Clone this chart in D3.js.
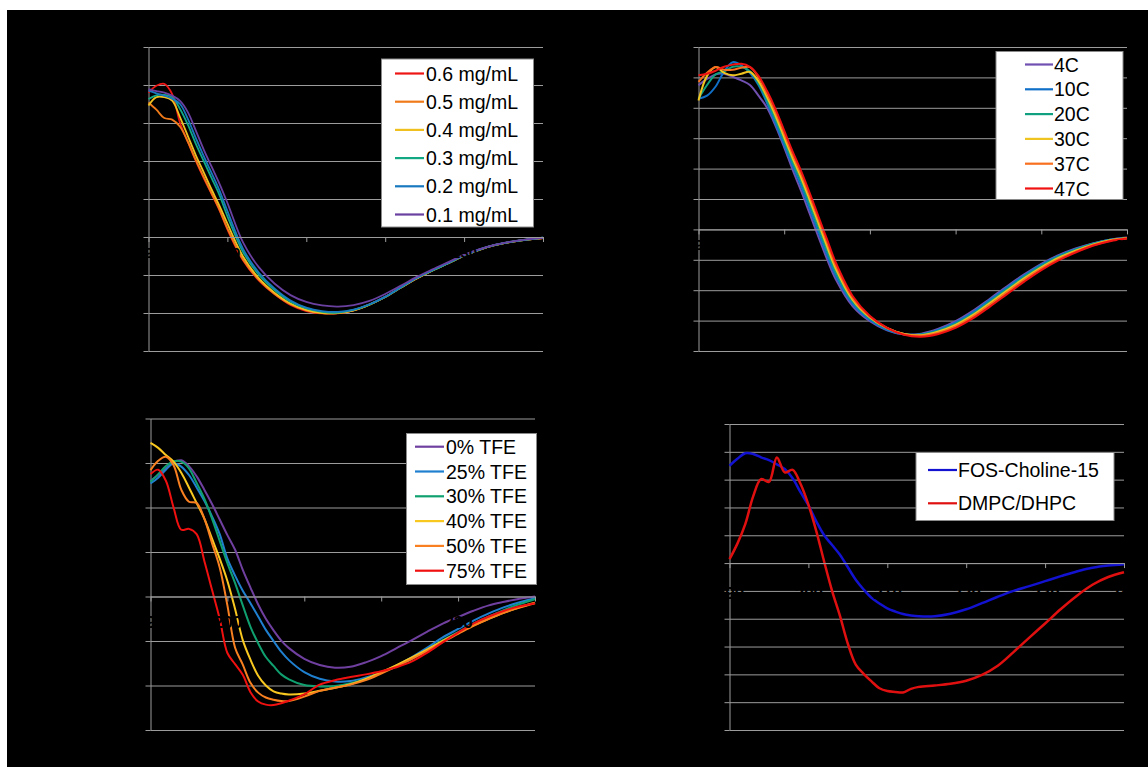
<!DOCTYPE html>
<html><head><meta charset="utf-8">
<script src="https://cdn.jsdelivr.net/npm/d3@7"></script>
<style>html,body{margin:0;padding:0;background:#fff;} svg{display:block;}</style>
</head><body>
<svg id="c" width="1148" height="767"></svg>
<script>
// ---------- DATA ----------
const xTicks = [190, 200, 210, 220, 230, 240];

// Panel A: protein concentration
const wlA = [190,191,192,193,194,195,196,197,198,199,200,202,204,206,208,210,212,214,216,218,220,222,224,226,228,230,232,234,236,238,240];
const concNames = ["0.6 mg/mL","0.5 mg/mL","0.4 mg/mL","0.3 mg/mL","0.2 mg/mL","0.1 mg/mL"];
const c06 = [38,39.8,40.3,37.6,30,25,20,15.5,11.3,7,2,-6.2,-11.5,-15.1,-17.9,-19.5,-20.1,-20.1,-19.3,-17.8,-15.8,-13.3,-10.9,-8.8,-6.9,-4.9,-3.3,-2.1,-1.3,-0.7,-0.3];
const c05 = [35.4,33.5,31.3,30.9,29,25,20.2,15.8,11.5,7.2,2.3,-6,-11.3,-15,-17.7,-19.3,-20,-20,-19.3,-17.8,-15.8,-13.3,-10.9,-8.8,-6.9,-4.9,-3.3,-2.1,-1.3,-0.7,-0.3];
const c04 = [34.6,36.8,36.8,35.9,31.5,26.5,21.5,17,12.5,8.2,3.5,-5.2,-10.9,-14.7,-17.5,-19.2,-20,-20,-19.3,-17.8,-15.8,-13.3,-10.9,-8.8,-6.9,-4.9,-3.3,-2.1,-1.3,-0.7,-0.3];
const c03 = [36.3,37.3,37.4,36.8,33.7,29.5,24.5,20,15.5,11,5.5,-4,-10,-14,-17,-18.8,-19.7,-19.9,-19.2,-17.8,-15.8,-13.3,-10.8,-8.8,-6.9,-4.9,-3.3,-2.1,-1.3,-0.7,-0.2];
const c02 = [38.5,37.8,37.2,36.4,35,31,26,21.3,16.8,12.2,6.8,-3.2,-9.4,-13.6,-16.7,-18.6,-19.5,-19.7,-19.1,-17.7,-15.7,-13.2,-10.8,-8.7,-6.8,-4.8,-3.2,-2,-1.2,-0.6,-0.2];
const c01 = [38.9,38.4,38,37.2,35.8,32.8,28,23,18.5,14,9,-1.5,-8,-12.3,-15.3,-17.1,-18,-18.3,-17.9,-16.8,-15,-12.8,-10.5,-8.5,-6.6,-4.7,-3.2,-2,-1.2,-0.6,-0.2];

// Panel B: temperature
const wlB = [190,191,192,193,194,195,196,197,198,199,200,201,202,203,204,205,206,208,210,212,214,216,218,220,222,224,226,228,230,232,234,236,238,240];
const tempNames = ["4C","10C","20C","30C","37C","47C"];
const t4  = [47.4,49.5,51,51.2,50.2,49,47.5,44,40,34,27,19.5,12.5,5,-2.5,-9.8,-16.3,-25.3,-30.2,-33.2,-34.6,-34.3,-32.7,-30.2,-26.8,-22.8,-18.7,-14.8,-11.3,-8.5,-6.3,-4.6,-3.4,-2.7];
const t10 = [43,44,47,52,55,54,51.5,47.5,41.5,34.8,27.8,20.8,14,6.5,-1,-8.5,-15.2,-24.6,-29.8,-33,-34.5,-34.5,-33,-30.6,-27.3,-23.2,-19.1,-15.2,-11.6,-8.7,-6.5,-4.7,-3.4,-2.8];
const t20 = [43,47.5,51,52,53.5,53.5,52,48,42.5,36,29,22,15.5,8,0.5,-7,-14,-23.8,-29.3,-32.6,-34.4,-34.6,-33.3,-31,-27.8,-23.7,-19.6,-15.6,-12,-9,-6.7,-4.8,-3.5,-2.8];
const t30 = [42.4,50.5,53.4,51.5,50.7,51.2,51.8,48.8,43.5,37.3,30.3,23.3,16.8,9.5,2,-5.6,-12.8,-23.2,-29,-32.5,-34.4,-34.8,-33.6,-31.4,-28.2,-24.2,-20.1,-16.1,-12.5,-9.4,-7,-5,-3.6,-2.8];
const t37 = [48.5,51.5,53.4,52.5,52.5,53.2,53.4,50,44.5,38.5,31.5,24.5,18,10.8,3.3,-4.3,-11.8,-22.6,-28.7,-32.4,-34.5,-35,-34,-31.9,-28.7,-24.8,-20.7,-16.6,-12.9,-9.8,-7.3,-5.2,-3.7,-2.9];
const t47 = [50.7,51.2,52.2,53.5,54.2,54.5,53.5,50.5,45.5,39.5,32.5,25.5,19,11.8,4.2,-3.3,-10.8,-22,-28.5,-32.4,-34.7,-35.3,-34.4,-32.4,-29.3,-25.4,-21.3,-17.2,-13.4,-10.2,-7.6,-5.4,-3.9,-3];

// Panel C: TFE
const wlC = [190,191,192,193,194,195,196,197,198,199,200,201,202,203,204,205,206,207,208,210,212,214,216,218,220,222,224,226,228,230,232,234,236,238,240];
const tfeNames = ["0% TFE","25% TFE","30% TFE","40% TFE","50% TFE","75% TFE"];
const f0  = [26,27.3,28.8,30.2,30.6,29.3,27,24,20.8,17.3,13.8,10.5,6,2,-1.8,-5,-7.6,-9.9,-11.6,-14,-15.4,-16,-15.8,-14.8,-13.4,-11.6,-9.8,-7.9,-6.1,-4.6,-3.2,-2,-1.2,-0.5,0];
const f25 = [25.4,26.7,28.5,29.9,29.2,27.3,24.5,21.5,18,14,8.5,4.7,1.3,-1.5,-4.5,-7.5,-10,-12.4,-14.3,-17,-18.5,-19.1,-19,-18.2,-17.1,-15.5,-13.6,-11.5,-9.2,-7.3,-5.4,-3.8,-2.4,-1.3,-0.4];
const f30 = [25.8,27.5,29.3,30.4,30.3,28.8,25.5,22,17.5,12.5,7.5,3,-2,-6.8,-10.5,-13.6,-15.6,-17.5,-18.6,-19.9,-20.2,-20.1,-19.5,-18.5,-17.1,-15.7,-14,-12,-9.8,-8,-6.1,-4.5,-3,-1.7,-0.6];
const f40 = [34.5,33.4,31.8,30.3,27.8,24.5,21,17.5,13,8.5,3.5,-2.8,-9.8,-14.2,-17.8,-20,-21.3,-21.8,-22,-21.8,-21.2,-20.5,-19.7,-18.5,-17,-15.4,-13.7,-11.9,-10,-8.2,-6.5,-5,-3.6,-2.4,-1.4];
const f50 = [28.4,30.5,31.4,29.5,24,21.3,21,17.5,12,6.5,-2,-11.5,-15.3,-19.4,-21.6,-22.7,-23.2,-23.5,-23.5,-22.5,-21.2,-20.5,-19.8,-18.8,-17.3,-15.7,-14,-12.2,-10.2,-8.4,-6.6,-5,-3.6,-2.5,-1.5];
const f75 = [27.5,28.5,26,20,15,15.2,14,8,1.5,-5,-12.7,-15.2,-17.6,-21.5,-23.6,-24.3,-24.4,-24,-23.4,-22,-19.8,-18.8,-18.1,-17.5,-16.8,-15.9,-14.6,-12.6,-10.3,-8.1,-6.1,-4.5,-3.2,-2.2,-1.5];

// Panel D: membrane mimetics
const wlD = [190,191,192,193,194,195,196,197,198,199,200,201,202,203,204,205,206,207,208,209,210,211,212,213,214,216,218,220,222,224,226,228,230,232,234,236,238,240];
const memNames = ["FOS-Choline-15","DMPC/DHPC"];
const fos  = [35,37.5,39.5,39.2,38,37,35.5,33.8,30.5,25.5,20.8,15,10,6.5,3,-1.5,-6,-9.5,-12.5,-14.5,-16.3,-17.4,-18.3,-18.8,-19.1,-19.1,-18.2,-16.6,-14.4,-12.1,-10,-8.3,-6.5,-4.7,-3,-1.7,-0.9,-0.4];
const dmpc = [1.4,7,14,24,30.2,29.2,38,32.6,33.5,28.5,21,11.5,0.5,-10,-19,-29,-36.5,-39.8,-42.5,-45,-46,-46.3,-46.5,-45.2,-44.5,-44,-43.4,-42.3,-40.2,-36.9,-32,-26.8,-21.7,-16.5,-11.8,-7.8,-5,-3.3];

// ---------- DRAWING ----------
const GRID = "#9c9c9c";
const FONT = "'Liberation Sans', Arial, sans-serif";
const svg = d3.select("#c");
svg.append("rect").attr("x",7).attr("y",10).attr("width",1141).attr("height",757).attr("fill","#000");

function panel(c){
  const x = d3.scaleLinear().domain([190,240]).range([c.x0, c.x1]);
  const y = d3.scaleLinear().domain(c.yDom).range([c.yBot, c.yTop]);
  const yt = d3.range(c.yDom[0], c.yDom[1] + 1e-6, 10);
  const g = svg.append("g");

  // gridlines
  g.append("g").attr("transform", `translate(${c.x0},0)`)
    .call(d3.axisLeft(y).tickValues(yt).tickSize(-(c.x1 - c.x0)).tickFormat(""))
    .call(s => { s.select(".domain").remove(); s.selectAll("line").attr("stroke", GRID); });

  // y axis
  const yg = g.append("g").attr("transform", `translate(${c.x0},0)`)
    .call(d3.axisLeft(y).tickValues(yt).tickSize(5).tickSizeOuter(0).tickPadding(6));
  yg.select(".domain").attr("stroke", GRID);
  yg.selectAll("line").attr("stroke", GRID);
  yg.selectAll("text").attr("fill", "#000").style("font-family", FONT).style("font-size", "15px");

  // curves
  const line = d3.line().x((d, i) => x(c.wl[i])).y(d => y(d)).curve(d3.curveCatmullRom.alpha(0.5));
  c.series.forEach(s => {
    g.append("path").datum(s.v).attr("d", line)
      .attr("fill", "none").attr("stroke", s.color)
      .attr("stroke-width", c.lw).attr("stroke-linejoin", "round");
  });

  // x axis on zero line (black labels drawn over curves)
  const xg = g.append("g").attr("transform", `translate(0,${y(0)})`)
    .call(d3.axisBottom(x).tickValues(xTicks).tickSize(5).tickSizeOuter(0).tickPadding(c.xPad).tickFormat(d3.format("d")));
  xg.select(".domain").attr("stroke", GRID);
  xg.selectAll("line").attr("stroke", GRID);
  xg.selectAll("text").attr("fill", "#000").style("font-family", FONT).style("font-size", c.xFont + "px").style("font-weight", "bold");

  // legend
  const L = c.leg;
  const lg = g.append("g");
  lg.append("rect").attr("x", L.x).attr("y", L.y).attr("width", L.w).attr("height", L.h)
    .attr("fill", "#fff").attr("stroke", "#8a8a8a").attr("stroke-width", 1);
  c.series.forEach((s, i) => {
    const cy = L.row0 + i * L.dy;
    lg.append("line").attr("x1", L.lx0).attr("x2", L.lx1).attr("y1", cy).attr("y2", cy)
      .attr("stroke", s.color).attr("stroke-width", 2.2);
    lg.append("text").attr("x", L.tx).attr("y", cy + L.fs * 0.36)
      .attr("fill", "#000").style("font-family", FONT).style("font-size", L.fs + "px")
      .text(s.name);
  });
}

panel({
  x0: 148.5, x1: 543, yTop: 47, yBot: 351, yDom: [-30, 50], wl: wlA, lw: 1.8, xPad: 5, xFont: 15,
  series: [
    {name: concNames[0], v: c06, color: "#ee1515"},
    {name: concNames[1], v: c05, color: "#f07a1a"},
    {name: concNames[2], v: c04, color: "#f0c020"},
    {name: concNames[3], v: c03, color: "#12a884"},
    {name: concNames[4], v: c02, color: "#1878c0"},
    {name: concNames[5], v: c01, color: "#6a40a0"}
  ],
  leg: {x: 381.5, y: 59, w: 152, h: 168, row0: 73.5, dy: 28.2, lx0: 395, lx1: 424, tx: 426, fs: 19.5}
});

panel({
  x0: 698.5, x1: 1127, yTop: 47, yBot: 351, yDom: [-40, 60], wl: wlB, lw: 2, xPad: 5, xFont: 15,
  series: [
    {name: tempNames[0], v: t4,  color: "#7050b0"},
    {name: tempNames[1], v: t10, color: "#1070c8"},
    {name: tempNames[2], v: t20, color: "#10a080"},
    {name: tempNames[3], v: t30, color: "#f0c420"},
    {name: tempNames[4], v: t37, color: "#f87020"},
    {name: tempNames[5], v: t47, color: "#f01212"}
  ],
  leg: {x: 996, y: 51.5, w: 127, h: 148, row0: 64.5, dy: 24.8, lx0: 1025, lx1: 1053, tx: 1054, fs: 19.5}
});

panel({
  x0: 150.5, x1: 535, yTop: 418.5, yBot: 730, yDom: [-30, 40], wl: wlC, lw: 2, xPad: 14, xFont: 17,
  series: [
    {name: tfeNames[0], v: f0,  color: "#7040a0"},
    {name: tfeNames[1], v: f25, color: "#2080d0"},
    {name: tfeNames[2], v: f30, color: "#10a070"},
    {name: tfeNames[3], v: f40, color: "#f8c820"},
    {name: tfeNames[4], v: f50, color: "#f88020"},
    {name: tfeNames[5], v: f75, color: "#f01010"}
  ],
  leg: {x: 406.5, y: 433.5, w: 130, h: 151, row0: 446.7, dy: 24.8, lx0: 415, lx1: 444, tx: 446, fs: 19.5}
});

panel({
  x0: 729.5, x1: 1124, yTop: 424, yBot: 730, yDom: [-60, 50], wl: wlD, lw: 2.5, xPad: 19, xFont: 17,
  series: [
    {name: memNames[0], v: fos,  color: "#1212d0"},
    {name: memNames[1], v: dmpc, color: "#e01010"}
  ],
  leg: {x: 916, y: 452.5, w: 198, h: 68, row0: 470, dy: 33.3, lx0: 928, lx1: 957, tx: 958, fs: 19.5}
});
</script>
</body></html>
